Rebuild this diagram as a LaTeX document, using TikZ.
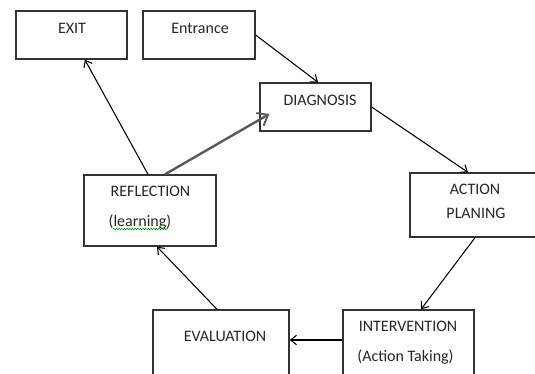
\documentclass[tikz,border=0pt]{standalone}
\usepackage{fontspec}
\setmainfont{Carlito}
\usetikzlibrary{arrows.meta,decorations.pathmorphing}
\begin{document}
\begin{tikzpicture}[x=0.75pt,y=-0.75pt,
  font=\fontsize{12}{14}\selectfont,
  box/.style={draw=black!80, line width=1pt, inner sep=0pt},
  lbl/.style={inner sep=0pt, anchor=base, text=black!85},
  arr/.style={draw=black, line width=0.8pt, -{Straight Barb[length=4.5pt,width=7pt]}},
  garr/.style={draw=black!65, line width=1.8pt, -{Straight Barb[length=7pt,width=11pt,line width=1.4pt]}}]
\useasboundingbox (0,0) rectangle (535,374);
\clip (0,0) rectangle (535,374);
% boxes
\node[box, minimum width=83.25pt, minimum height=36pt] (exit) at (71.5,35) {};
\node[box, minimum width=84pt, minimum height=36pt] (entr) at (199,35) {};
\node[box, minimum width=83.25pt, minimum height=36pt] (diag) at (315.5,107) {};
\node[box, minimum width=112.5pt, minimum height=48pt] (act) at (485,205) {};
\node[box, minimum width=99pt, minimum height=53.25pt] (refl) at (150,210.5) {};
\node[box, minimum width=102pt, minimum height=60pt] (eval) at (221,350) {};
\node[box, minimum width=98.25pt, minimum height=60pt] (intv) at (408.5,350) {};
% labels
\node[lbl] (t1) at (72,34) {EXIT};
\node[lbl] (t2) at (200,34) {Entrance};
\node[lbl] (t3) at (320,106) {DIAGNOSIS};
\node[lbl] (t4) at (475,195) {ACTION};
\node[lbl] (t5) at (476,218) {PLANING};
\node[lbl] (t6) at (150.5,196) {REFLECTION};
\node[lbl] (t7) at (140,226) {(learning)};
\node[lbl] (t8) at (225,341.5) {EVALUATION};
\node[lbl] (t9) at (408,331.5) {INTERVENTION};
\node[lbl] (t10) at (405.5,361) {(Action Taking)};
\draw[green!60!black, line width=0.5pt, decorate, decoration={snake, amplitude=0.5pt, segment length=2pt}] (113,229) -- (168,229);
% connectors
\draw[arr] (entr.east) -- ([xshift=1.9pt]diag.north);
\draw[arr] (diag.east) -- ([xshift=-12.75pt]act.north);
\draw[arr] ([xshift=-7.5pt]act.south) -- ([xshift=9.4pt]intv.north);
\draw[arr] ([yshift=7.5pt]intv.west) -- ([yshift=7.5pt]eval.east);
\draw[arr] ([xshift=-3pt]eval.north) -- ([xshift=5.25pt]refl.south);
\draw[arr] ([xshift=-1.5pt]refl.north) -- ([xshift=10pt]exit.south);
\draw[garr] ([xshift=11.25pt]refl.north) -- ([xshift=7.5pt,yshift=-5.25pt]diag.west);
\end{tikzpicture}
\end{document}
